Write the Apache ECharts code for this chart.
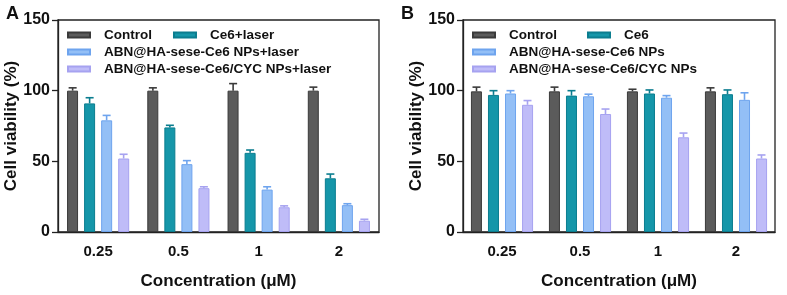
<!DOCTYPE html>
<html><head><meta charset="utf-8">
<script src="https://cdn.jsdelivr.net/npm/echarts@6/dist/echarts.min.js"></script>
<style>html,body{margin:0;padding:0;background:#fff}#c{width:787px;height:295px}</style>
</head><body><div id="c"></div>
<script>
var categories = ['0.25', '0.5', '1', '2'];
var yTicks = [0, 50, 100, 150];

// Panel A
var namesA = ['Control', 'Ce6+laser', 'ABN@HA-sese-Ce6 NPs+laser', 'ABN@HA-sese-Ce6/CYC NPs+laser'];
var controlA = [100, 100, 100, 100];
var controlAErr = [2, 2, 5, 2.5];
var ce6LaserA = [91, 74, 56, 38];
var ce6LaserAErr = [4, 1.5, 2, 3];
var abnLaserA = [79, 48, 30, 19];
var abnLaserAErr = [3.5, 2.5, 2, 1];
var cycLaserA = [52, 31, 17.5, 8];
var cycLaserAErr = [3, 1, 1, 1];

// Panel B
var namesB = ['Control', 'Ce6', 'ABN@HA-sese-Ce6 NPs', 'ABN@HA-sese-Ce6/CYC NPs'];
var controlB = [99.5, 99.5, 99.5, 99.5];
var controlBErr = [3, 3, 1.5, 2.5];
var ce6B = [97, 96.5, 98, 97.5];
var ce6BErr = [3, 3.5, 2.5, 3];
var abnB = [98, 96, 95, 93.5];
var abnBErr = [2, 1.5, 1.5, 5];
var cycB = [90, 83.5, 67, 52];
var cycBErr = [3, 3.5, 3, 2.5];

var fills = ['#5b5b5b', '#1596a9', '#93bff6', '#bfbcf8'];
var edges = ['#3a3a3a', '#0b7d8f', '#6ea4ee', '#a6a2f0'];
var FONT = '"Liberation Sans", Arial, sans-serif';
var BW = 11, STEP = 17;

var dataA = [controlA, ce6LaserA, abnLaserA, cycLaserA];
var errA = [controlAErr, ce6LaserAErr, abnLaserAErr, cycLaserAErr];
var dataB = [controlB, ce6B, abnB, cycB];
var errB = [controlBErr, ce6BErr, abnBErr, cycBErr];

function makeAxes(gi) {
  return {
    x: {
      type: 'category', data: categories, gridIndex: gi,
      axisLine: {lineStyle: {color: '#222', width: 1.3}},
      axisTick: {alignWithLabel: true, length: 5, lineStyle: {color: '#222', width: 1.3}},
      axisLabel: {color: '#111', fontFamily: FONT, fontWeight: 'bold', fontSize: 15, margin: 12},
      name: 'Concentration (μM)', nameLocation: 'middle', nameGap: 41,
      nameTextStyle: {color: '#111', fontFamily: FONT, fontWeight: 'bold', fontSize: 17}
    },
    y: {
      type: 'value', min: yTicks[0], max: yTicks[yTicks.length - 1], interval: 50, gridIndex: gi,
      axisLine: {show: true, lineStyle: {color: '#222', width: 1.3}},
      axisTick: {show: true, length: 6, lineStyle: {color: '#222', width: 1.3}},
      splitLine: {show: false},
      axisLabel: {color: '#111', fontFamily: FONT, fontWeight: 'bold', fontSize: 16, margin: 8},
      name: 'Cell viability (%)', nameLocation: 'middle', nameGap: 38,
      nameTextStyle: {color: '#111', fontFamily: FONT, fontWeight: 'bold', fontSize: 17}
    }
  };
}

var series = [];
function addPanel(names, data, errs, gi) {
  for (var i = 0; i < 4; i++) {
    series.push({
      type: 'bar', name: names[i], xAxisIndex: gi, yAxisIndex: gi,
      data: data[i], barWidth: BW, barGap: '55%',
      itemStyle: {color: fills[i], borderColor: edges[i], borderWidth: 1}
    });
  }
  for (var j = 0; j < 4; j++) {
    (function (k) {
      var rows = data[k].map(function (v, c) { return [c, v, errs[k][c]]; });
      series.push({
        type: 'custom', name: 'err' + gi + k, xAxisIndex: gi, yAxisIndex: gi, z: 3,
        data: rows,
        renderItem: function (params, api) {
          var c = api.value(0), v = api.value(1), e = api.value(2);
          var p0 = api.coord([c, v]);
          var p1 = api.coord([c, v + e]);
          var x = p0[0] + (k - 1.5) * STEP;
          var st = {stroke: edges[k], lineWidth: 1.6};
          return {type: 'group', children: [
            {type: 'line', shape: {x1: x, y1: p0[1], x2: x, y2: p1[1]}, style: st},
            {type: 'line', shape: {x1: x - 4, y1: p1[1], x2: x + 4, y2: p1[1]}, style: st}
          ]};
        }
      });
    })(j);
  }
}
addPanel(namesA, dataA, errA, 0);
addPanel(namesB, dataB, errB, 1);

var axA = makeAxes(0), axB = makeAxes(1);
function legend(names, left, top, gap) {
  return {
    data: names, left: left, top: top, orient: 'horizontal', itemWidth: 22, itemHeight: 5,
    itemGap: gap, icon: 'rect', selectedMode: false, padding: 0,
    textStyle: {color: '#111', fontFamily: FONT, fontWeight: 'bold', fontSize: 13.5, padding: [0, 0, 0, 9]}
  };
}

var option = {
  animation: false,
  backgroundColor: '#fff',
  title: [
    {text: 'A', left: 6, top: 5, padding: 0, textStyle: {fontFamily: FONT, fontWeight: 'bold', fontSize: 18, color: '#111'}},
    {text: 'B', left: 401, top: 5, padding: 0, textStyle: {fontFamily: FONT, fontWeight: 'bold', fontSize: 18, color: '#111'}}
  ],
  grid: [
    {left: 58, right: 408, top: 20, bottom: 63, show: true, borderColor: '#222', borderWidth: 1.3},
    {left: 463, right: 12, top: 20, bottom: 63, show: true, borderColor: '#222', borderWidth: 1.3}
  ],
  legend: [
    legend([namesA[0], namesA[1]], 67, 28, 21),
    legend([namesA[2]], 67, 45, 21),
    legend([namesA[3]], 67, 62, 21),
    legend([namesB[0], namesB[1]], 472, 28, 30),
    legend([namesB[2]], 472, 45, 30),
    legend([namesB[3]], 472, 62, 30)
  ],
  xAxis: [axA.x, axB.x],
  yAxis: [axA.y, axB.y],
  series: series
};
var chart = echarts.init(document.getElementById('c'));
chart.setOption(option);
</script></body></html>
